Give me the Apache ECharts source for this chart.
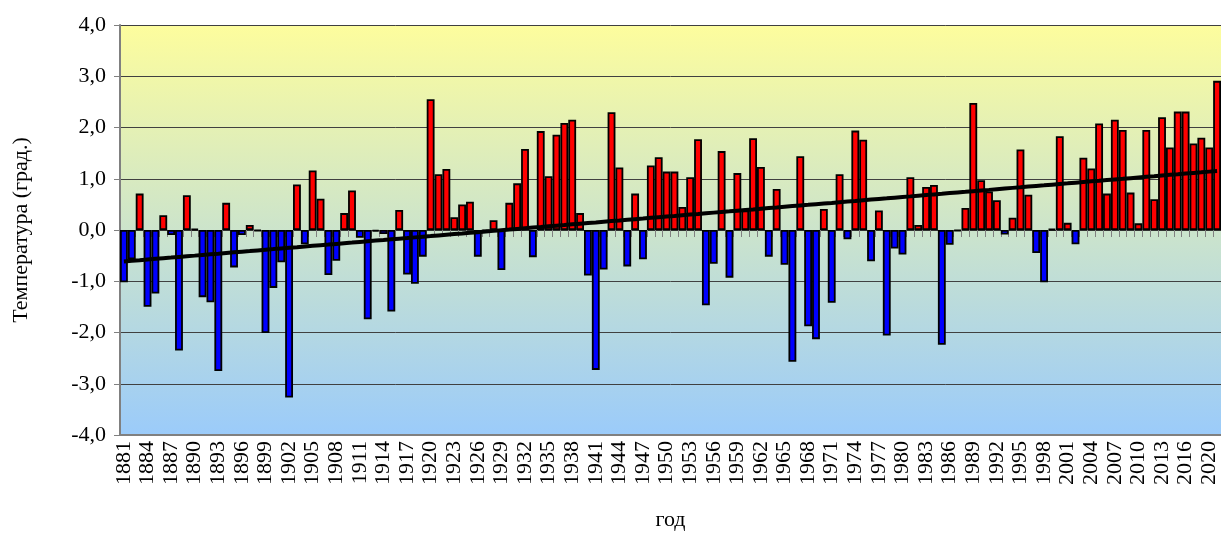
<!DOCTYPE html>
<html>
<head>
<meta charset="utf-8">
<script src="https://cdn.jsdelivr.net/npm/echarts@6/dist/echarts.min.js"></script>
<style>
    html, body {margin: 0; padding: 0; background: #fff;}
    #chart {width: 1221px; height: 536px;}
</style>
</head>
<body>
<div id="chart"></div>
<script>
    // годы (на оси после 2018 подписан 2020)
    const firstYear = 1881;
    const lastRegularYear = 2018;
    const tailYears = ['2020', '2021'];
    // аномалии температуры по десятилетиям
    const t1881 = [-1.02, -0.57, 0.71, -1.50, -1.24, 0.29, -0.10, -2.35, 0.68, 0.02];
    const t1891 = [-1.31, -1.41, -2.75, 0.53, -0.73, -0.10, 0.10, -0.02, -2.01, -1.13];
    const t1901 = [-0.63, -3.27, 0.89, -0.28, 1.16, 0.61, -0.88, -0.60, 0.33, 0.77];
    const t1911 = [-0.15, -1.74, -0.03, -0.08, -1.59, 0.39, -0.87, -1.05, -0.52, 2.55];
    const t1921 = [1.09, 1.19, 0.25, 0.50, 0.55, -0.52, -0.02, 0.19, -0.78, 0.53];
    const t1931 = [0.91, 1.58, -0.53, 1.93, 1.05, 1.86, 2.09, 2.15, 0.33, -0.89];
    const t1941 = [-2.73, -0.77, 2.30, 1.22, -0.71, 0.71, -0.57, 1.26, 1.42, 1.14];
    const t1951 = [1.14, 0.45, 1.03, 1.77, -1.47, -0.66, 1.54, -0.93, 1.11, 0.38];
    const t1961 = [1.79, 1.23, -0.52, 0.80, -0.68, -2.57, 1.44, -1.88, -2.13, 0.41];
    const t1971 = [-1.42, 1.09, -0.18, 1.94, 1.76, -0.61, 0.38, -2.06, -0.36, -0.48];
    const t1981 = [1.03, 0.10, 0.84, 0.88, -2.24, -0.29, -0.02, 0.43, 2.48, 0.97];
    const t1991 = [0.75, 0.58, -0.09, 0.24, 1.57, 0.69, -0.45, -1.02, 0.02, 1.83];
    const t2001 = [0.14, -0.28, 1.41, 1.20, 2.08, 0.71, 2.15, 1.95, 0.73, 0.13];
    const t2011 = [1.95, 0.60, 2.20, 1.61, 2.31, 2.31, 1.69, 1.80, 1.61, 2.91];
    // шкала
    const yMin = -4;
    const yMax = 4;
    const yStep = 1;

    const years = [];
    for (let y = firstYear; y <= lastRegularYear; y++) {
        years.push(String(y));
    }
    tailYears.forEach(y => years.push(y));
    const values = [].concat(t1881, t1891, t1901, t1911, t1921, t1931, t1941,
        t1951, t1961, t1971, t1981, t1991, t2001, t2011);

    //линейный тренд (МНК)
    const n = values.length;
    let sx = 0, sy = 0, sxy = 0, sxx = 0;
    values.forEach((v, i) => {
        sx += i; sy += v; sxy += i * v; sxx += i * i;
    });
    const slope = (n * sxy - sx * sy) / (n * sxx - sx * sx);
    const intercept = (sy - slope * sx) / n;
    const trend = values.map((v, i) => +(intercept + slope * i).toFixed(3));

    const font = '"Liberation Serif", "Times New Roman", serif';

    const chart = echarts.init(document.getElementById('chart'));
    const option = {
        animation: false,
        grid: {
            left: 120,
            right: -4,
            top: 25,
            bottom: 96,
            show: true,
            borderWidth: 0,
            backgroundColor: new echarts.graphic.LinearGradient(0, 0, 0, 1, [
                {offset: 0, color: '#fdfd9d'},
                {offset: 1, color: '#9bcbfa'},
            ]),
        },
        xAxis: [
            {
                type: 'category',
                data: years,
                position: 'bottom',
                axisLine: {onZero: false, lineStyle: {color: '#808080', width: 2}},
                axisTick: {show: false},
                axisLabel: {
                    interval: 2,
                    rotate: 90,
                    margin: 6,
                    color: '#000',
                    fontSize: 22,
                    fontFamily: font,
                },
                name: 'год',
                nameLocation: 'middle',
                nameGap: 74,
                nameTextStyle: {color: '#000', fontSize: 22, fontFamily: font},
            },
            {
                type: 'category',
                data: years,
                position: 'bottom',
                axisLine: {onZero: true, lineStyle: {color: '#303030', width: 1}},
                axisTick: {show: true, interval: 0, length: 7, lineStyle: {color: '#808080'}},
                axisLabel: {show: false},
            },
        ],
        yAxis: {
            type: 'value',
            min: yMin,
            max: yMax,
            interval: yStep,
            axisLine: {show: true, lineStyle: {color: '#808080', width: 2}},
            axisTick: {show: true, length: 6, lineStyle: {color: '#808080'}},
            axisLabel: {
                margin: 14,
                color: '#000',
                fontSize: 22,
                fontFamily: font,
                formatter: v => v.toFixed(1).replace('.', ','),
            },
            splitLine: {lineStyle: {color: '#404040', width: 1}},
            name: 'Температура (град.)',
            nameLocation: 'middle',
            nameGap: 88,
            nameTextStyle: {color: '#000', fontSize: 22, fontFamily: font},
        },
        series: [
            {
                type: 'bar',
                xAxisIndex: 0,
                data: values,
                barCategoryGap: '0%',
                itemStyle: {
                    borderColor: '#000',
                    borderWidth: 1.8,
                    color: params => params.value >= 0 ? '#ff0000' : '#0000ff',
                },
            },
            {
                type: 'line',
                xAxisIndex: 0,
                data: trend,
                symbol: 'none',
                z: 5,
                lineStyle: {color: '#000', width: 4},
            },
        ],
    };
    chart.setOption(option);
</script>
</body>
</html>
